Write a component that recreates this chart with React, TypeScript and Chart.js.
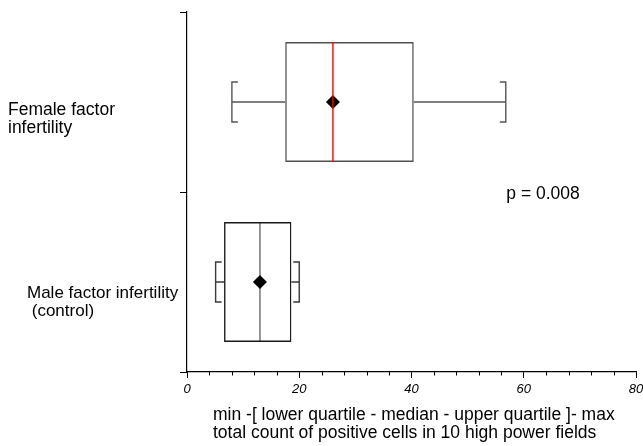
import React, { useEffect, useRef } from 'react';
import { Chart, registerables } from 'chart.js';

Chart.register(...registerables);

// ---- data ----
const categories = ['Female factor infertility', 'Male factor infertility (control)'];
const categoryLabelLines = [
  ['Female factor', 'infertility'],
  ['Male factor infertility', ' (control)'],
];
const minValues = [8, 5.1];
const lowerQuartiles = [17.5, 6.6];
const medians = [26, 13];
const upperQuartiles = [40.4, 18.6];
const maxValues = [56.8, 20];
const meanValues = [26, 13];
const xTickStep = 20;
const xMinorStep = 4;
const xMin = 0;
const xMax = 80;
const pValueText = 'p = 0.008';
const pValueAt = 56.9;
const xTitleLines = [
  'min -[ lower quartile - median - upper quartile ]- max',
  'total count of positive cells in 10 high power fields',
];

// ---- styles ----
const FONT = '"Liberation Sans", Arial, Helvetica, sans-serif';
const boxStyles = [
  { box: '#4f4f4f', whisker: '#555555', median: '#ff0000', medianOnTop: true, labelX: 8, labelDy: 13, labelSize: 17.5 },
  { box: '#1a1a1a', whisker: '#3a3a3a', median: '#6a6a6a', medianOnTop: false, labelX: 27, labelDy: 16, labelSize: 17 },
];

function drawParts(chart: any, onTop: boolean) {
  const meta = chart.getDatasetMeta(0);
  const xs = chart.scales.x;
  const ctx = chart.ctx;
  ctx.save();
  meta.data.forEach((bar: any, i: number) => {
    const st = boxStyles[i];
    const { y, height } = bar.getProps(['y', 'height'], true);
    const top = y - height / 2;
    const bottom = y + height / 2;
    if (!onTop) {
      const xmin = xs.getPixelForValue(minValues[i]);
      const xq1 = xs.getPixelForValue(lowerQuartiles[i]);
      const xq3 = xs.getPixelForValue(upperQuartiles[i]);
      const xmax = xs.getPixelForValue(maxValues[i]);
      const capH = height / 6;
      const foot = 6;
      ctx.strokeStyle = st.whisker;
      ctx.lineWidth = 1.4;
      ctx.beginPath();
      ctx.moveTo(xmin, y);
      ctx.lineTo(xq1, y);
      ctx.moveTo(xq3, y);
      ctx.lineTo(xmax, y);
      // left bracket
      ctx.moveTo(xmin + foot, y - capH);
      ctx.lineTo(xmin, y - capH);
      ctx.lineTo(xmin, y + capH);
      ctx.lineTo(xmin + foot, y + capH);
      // right bracket
      ctx.moveTo(xmax - foot, y - capH);
      ctx.lineTo(xmax, y - capH);
      ctx.lineTo(xmax, y + capH);
      ctx.lineTo(xmax - foot, y + capH);
      ctx.stroke();
    }
    if (st.medianOnTop === onTop) {
      const xm = xs.getPixelForValue(medians[i]);
      ctx.strokeStyle = st.median;
      ctx.lineWidth = 1.4;
      ctx.beginPath();
      ctx.moveTo(xm, top);
      ctx.lineTo(xm, bottom);
      ctx.stroke();
    }
  });
  ctx.restore();
}

const boxPlugin = {
  id: 'boxWhisker',
  beforeDatasetsDraw(chart: any) {
    drawParts(chart, false);
  },
  afterDatasetsDraw(chart: any) {
    drawParts(chart, true);
  },
  afterDraw(chart: any) {
    const ctx = chart.ctx;
    const xs = chart.scales.x;
    const ys = chart.scales.y;
    const area = chart.chartArea;
    ctx.save();
    // minor ticks
    ctx.strokeStyle = '#000';
    ctx.lineWidth = 1;
    ctx.beginPath();
    for (let v = xMin + xMinorStep; v < xMax; v += xMinorStep) {
      if (v % xTickStep === 0) continue;
      const px = Math.round(xs.getPixelForValue(v)) + 0.5;
      ctx.moveTo(px, area.bottom);
      ctx.lineTo(px, area.bottom + 3.5);
    }
    ctx.stroke();

    // category labels
    ctx.fillStyle = '#000';
    ctx.textAlign = 'left';
    ctx.textBaseline = 'alphabetic';
    categories.forEach((c, i) => {
      const cy = ys.getPixelForValue(i);
      const st = boxStyles[i];
      ctx.font = `${st.labelSize}px ${FONT}`;
      categoryLabelLines[i].forEach((line, j) => {
        ctx.fillText(line, st.labelX, cy + st.labelDy + j * 18);
      });
    });

    ctx.font = `17.5px ${FONT}`;
    // p value
    const boundary = (ys.getPixelForValue(0) + ys.getPixelForValue(1)) / 2;
    ctx.fillText(pValueText, xs.getPixelForValue(pValueAt), boundary + 7);

    // axis title
    xTitleLines.forEach((line, j) => {
      ctx.fillText(line, area.left + 26, area.bottom + 48 + j * 18);
    });
    ctx.restore();
  },
};

export default function App() {
  const ref = useRef<HTMLCanvasElement>(null);
  useEffect(() => {
    const chart = new Chart(ref.current as HTMLCanvasElement, {
      type: 'bar',
      data: {
        labels: categories,
        datasets: [
          {
            type: 'bar',
            order: 1,
            data: categories.map((_, i) => [lowerQuartiles[i], upperQuartiles[i]]) as any,
            backgroundColor: 'rgba(255,255,255,0)',
            borderColor: boxStyles.map((s) => s.box),
            borderWidth: 1.4,
            borderSkipped: false,
            barPercentage: 2 / 3,
            categoryPercentage: 1,
          } as any,
          {
            type: 'scatter',
            order: 0,
            data: categories.map((c, i) => ({ x: meanValues[i], y: c })) as any,
            pointStyle: 'rectRot',
            radius: 7,
            backgroundColor: '#000',
            borderColor: '#000',
            borderWidth: 0,
          } as any,
        ],
      },
      options: {
        indexAxis: 'y',
        animation: false,
        responsive: false,
        devicePixelRatio: 1,
        layout: { padding: { left: 177, top: 12, right: 3, bottom: 0 } },
        plugins: { legend: { display: false }, tooltip: { enabled: false } },
        scales: {
          x: {
            type: 'linear',
            position: 'bottom',
            min: xMin,
            max: xMax,
            ticks: {
              stepSize: xTickStep,
              color: '#000',
              padding: 4,
              maxRotation: 0,
              font: { family: FONT, size: 13, style: 'italic' },
            },
            grid: { drawOnChartArea: false, tickLength: 6, color: '#000', lineWidth: 1 },
            border: { display: true, color: '#000', width: 1.2 },
            afterFit(scale: any) {
              scale.height = 74;
              scale.paddingLeft = 0;
              scale.paddingRight = 0;
            },
          },
          y: {
            type: 'category',
            position: 'left',
            offset: true,
            ticks: { display: false },
            grid: {
              offset: true,
              drawOnChartArea: false,
              tickLength: 7,
              color: '#000',
              tickColor: (c: any) => (c.index >= categories.length ? 'rgba(0,0,0,0)' : '#000'),
              lineWidth: 1,
            },
            border: { display: true, color: '#000', width: 1.2 },
            afterFit(scale: any) {
              scale.width = 10;
              scale.paddingTop = 0;
              scale.paddingBottom = 0;
            },
          },
        },
      } as any,
      plugins: [boxPlugin],
    });
    return () => chart.destroy();
  }, []);
  return (
    <div style={{ position: 'absolute', left: 0, top: 0, width: 643, height: 446, background: '#fff' }}>
      <canvas ref={ref} width={643} height={446} style={{ display: 'block', width: 643, height: 446 }} />
    </div>
  );
}
